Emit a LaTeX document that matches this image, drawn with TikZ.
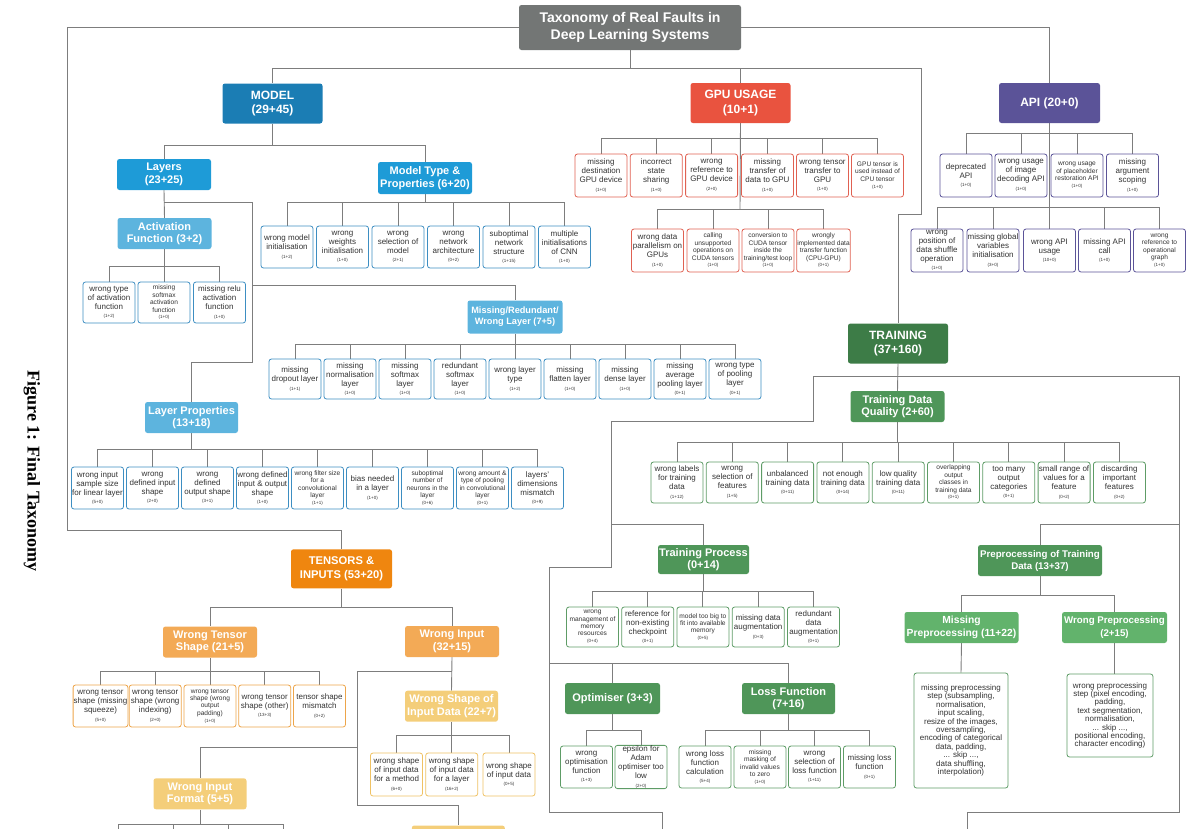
\documentclass[tikz,border=0pt]{standalone}
\usepackage{fontspec}
\setmainfont{Liberation Sans}
\newfontfamily\capfont{Liberation Serif}
\usetikzlibrary{backgrounds}

\definecolor{titlegray}{HTML}{737675}
\definecolor{modelblue}{HTML}{1B7DB4}
\definecolor{layerblue}{HTML}{1E9BD7}
\definecolor{lightblue}{HTML}{5DB4DE}
\definecolor{leafblue}{HTML}{3D8EC2}
\definecolor{gpured}{HTML}{E9533F}
\definecolor{leafred}{HTML}{E06152}
\definecolor{apipurple}{HTML}{5B5398}
\definecolor{traingreen}{HTML}{3D7C47}
\definecolor{midgreen}{HTML}{4F9659}
\definecolor{lightgreen}{HTML}{62B36C}
\definecolor{leafgreen}{HTML}{5E9C66}
\definecolor{tensororange}{HTML}{EF860F}
\definecolor{lightorange}{HTML}{F3AA56}
\definecolor{paleyellow}{HTML}{F4CE7A}
\definecolor{leaforange}{HTML}{EDA54A}
\definecolor{leafyellow}{HTML}{EFC264}
\definecolor{linegray}{HTML}{7D7D7D}
\definecolor{leaftext}{HTML}{333333}

\newcommand{\fcnt}[1]{\\[-0.5pt]{\fontsize{4.5}{5}\selectfont #1}}

\tikzset{
  cat/.style={rectangle, rounded corners=2.5pt, text=white, align=center, inner sep=1pt,
    font=\bfseries\fontsize{11}{12.5}\selectfont},
  topcat/.style={cat, minimum width=100pt, minimum height=40pt, font=\bfseries\fontsize{12}{14.3}\selectfont},
  midcat/.style={cat, minimum width=94pt, minimum height=31pt},
  leaf/.style={rectangle, draw=#1, fill=white, rounded corners=2.5pt, line width=0.8pt, align=center,
    inner sep=0.5pt, minimum width=52pt, minimum height=42pt, text=leaftext, font=\fontsize{8}{9}\selectfont},
  tinytext/.style={font=\fontsize{6.6}{7.4}\selectfont},
  link/.style={draw=linegray, line width=0.9pt}
}

\begin{document}
\begin{tikzpicture}[x=1pt,y=-1pt]
  \path[use as bounding box] (0,0) rectangle (1200,828);
  \clip (0,0) rectangle (1200,828);

  \node[cat, fill=titlegray, minimum width=222pt, minimum height=45pt, font=\bfseries\fontsize{14}{16.7}\selectfont] (title) at (630,27.5) {Taxonomy of Real Faults in\\Deep Learning Systems};
  \node[rotate=-90, font=\capfont\bfseries\fontsize{18}{20}\selectfont] (caption) at (32,471) {Figure 1: Final Taxonomy};

  % model
  \node[topcat, fill=modelblue] (model) at (272.5,103.5) {MODEL\\(29+45)};
  \node[midcat, fill=layerblue] (layers) at (164,174.5) {Layers\\(23+25)};
  \node[midcat, fill=layerblue, minimum height=32pt] (mtype) at (425,178) {Model Type \&\\Properties (6+20)};
  \node[midcat, fill=lightblue] (actfn) at (164.5,233.5) {Activation\\Function (3+2)};
  \node[midcat, fill=lightblue, minimum width=95pt, minimum height=33pt, font=\bfseries\fontsize{9.2}{11}\selectfont] (misred) at (515,317) {Missing/Redundant/\\Wrong Layer (7+5)};
  \node[midcat, fill=lightblue, minimum width=93pt] (lprops) at (191.5,417.5) {Layer Properties\\(13+18)};

  \node[leaf=leafblue] (mt1) at (287,247) {wrong model\\initialisation\fcnt{(1+2)}};
  \node[leaf=leafblue] (mt2) at (342.5,247) {wrong\\weights\\initialisation\fcnt{(1+0)}};
  \node[leaf=leafblue] (mt3) at (398,247) {wrong\\selection of\\model\fcnt{(2+1)}};
  \node[leaf=leafblue] (mt4) at (453.5,247) {wrong\\network\\architecture\fcnt{(0+2)}};
  \node[leaf=leafblue] (mt5) at (509,247) {suboptimal\\network\\structure\fcnt{(1+15)}};
  \node[leaf=leafblue] (mt6) at (564.5,247) {multiple\\initialisations\\of CNN\fcnt{(1+0)}};

  \node[leaf=leafblue, minimum height=41pt] (af1) at (109,302.5) {wrong type\\of activation\\function\fcnt{(1+2)}};
  \node[leaf=leafblue, minimum height=41pt, tinytext] (af2) at (164,302.5) {missing\\softmax\\activation\\function\fcnt{(1+0)}};
  \node[leaf=leafblue, minimum height=41pt] (af3) at (219.5,302.5) {missing relu\\activation\\function\fcnt{(1+0)}};

  \node[leaf=leafblue, minimum height=40pt] (mr1) at (295,379) {missing\\dropout layer\fcnt{(1+1)}};
  \node[leaf=leafblue, minimum height=40pt] (mr2) at (350,379) {missing\\normalisation\\layer\fcnt{(1+0)}};
  \node[leaf=leafblue, minimum height=40pt] (mr3) at (405,379) {missing\\softmax\\layer\fcnt{(1+0)}};
  \node[leaf=leafblue, minimum height=40pt] (mr4) at (460,379) {redundant\\softmax\\layer\fcnt{(1+0)}};
  \node[leaf=leafblue, minimum height=40pt] (mr5) at (515,379) {wrong layer\\type\fcnt{(1+2)}};
  \node[leaf=leafblue, minimum height=40pt] (mr6) at (570,379) {missing\\flatten layer\fcnt{(1+0)}};
  \node[leaf=leafblue, minimum height=40pt] (mr7) at (625,379) {missing\\dense layer\fcnt{(1+0)}};
  \node[leaf=leafblue, minimum height=40pt] (mr8) at (680,379) {missing\\average\\pooling layer\fcnt{(0+1)}};
  \node[leaf=leafblue, minimum height=40pt] (mr9) at (735,379) {wrong type\\of pooling\\layer\fcnt{(0+1)}};

  \node[leaf=leafblue] (lp1) at (97.5,488) {wrong input\\sample size\\for linear layer\fcnt{(5+0)}};
  \node[leaf=leafblue] (lp2) at (152.5,488) {wrong\\defined input\\shape\fcnt{(2+0)}};
  \node[leaf=leafblue] (lp3) at (207.5,488) {wrong\\defined\\output shape\fcnt{(3+1)}};
  \node[leaf=leafblue] (lp4) at (262.5,488) {wrong defined\\input \& output\\shape\fcnt{(1+0)}};
  \node[leaf=leafblue, tinytext] (lp5) at (317.5,488) {wrong filter size\\for a\\convolutional\\layer\fcnt{(1+1)}};
  \node[leaf=leafblue] (lp6) at (372.5,488) {bias needed\\in a layer\fcnt{(1+0)}};
  \node[leaf=leafblue, tinytext] (lp7) at (427.5,488) {suboptimal\\number of\\neurons in the\\layer\fcnt{(0+6)}};
  \node[leaf=leafblue, tinytext] (lp8) at (482.5,488) {wrong amount \&\\type of pooling\\in convolutional\\layer\fcnt{(0+1)}};
  \node[leaf=leafblue] (lp9) at (537.5,488) {layers'\\dimensions\\mismatch\fcnt{(0+9)}};

  % gpu usage
  \node[topcat, fill=gpured] (gpu) at (740.5,103) {GPU USAGE\\(10+1)};
  \node[leaf=leafred, minimum height=43pt] (gp1) at (601,175.5) {missing\\destination\\GPU device\fcnt{(1+0)}};
  \node[leaf=leafred, minimum height=43pt] (gp2) at (656.3,175.5) {incorrect\\state\\sharing\fcnt{(1+0)}};
  \node[leaf=leafred, minimum height=43pt] (gp3) at (711.6,175.5) {wrong\\reference to\\GPU device\fcnt{(2+0)}};
  \node[leaf=leafred, minimum height=43pt] (gp4) at (767.5,175.5) {missing\\transfer of\\data to GPU\fcnt{(1+0)}};
  \node[leaf=leafred, minimum height=43pt] (gp5) at (822.5,175.5) {wrong tensor\\transfer to\\GPU\fcnt{(1+0)}};
  \node[leaf=leafred, minimum height=43pt, tinytext] (gp6) at (877.5,175.5) {GPU tensor is\\used instead of\\CPU tensor\fcnt{(1+0)}};
  \node[leaf=leafred, minimum height=43pt] (gq1) at (657.5,250.5) {wrong data\\parallelism on\\GPUs\fcnt{(1+0)}};
  \node[leaf=leafred, minimum height=43pt, tinytext] (gq2) at (713,250.5) {calling\\unsupported\\operations on\\CUDA tensors\fcnt{(1+0)}};
  \node[leaf=leafred, minimum height=43pt, tinytext] (gq3) at (768,250.5) {conversion to\\CUDA tensor\\inside the\\training/test loop\fcnt{(1+0)}};
  \node[leaf=leafred, minimum height=43pt, tinytext] (gq4) at (823.5,250.5) {wrongly\\implemented data\\transfer function\\(CPU-GPU)\fcnt{(0+1)}};

  % api
  \node[topcat, fill=apipurple, minimum width=101pt] (api) at (1049.5,103) {API (20+0)};
  \node[leaf=apipurple, minimum height=43pt] (ap1) at (966,175.5) {deprecated\\API\fcnt{(1+0)}};
  \node[leaf=apipurple, minimum height=43pt] (ap2) at (1021,175.5) {wrong usage\\of image\\decoding API\fcnt{(1+0)}};
  \node[leaf=apipurple, minimum height=43pt, tinytext] (ap3) at (1077,175.5) {wrong usage\\of placeholder\\restoration API\fcnt{(1+0)}};
  \node[leaf=apipurple, minimum height=43pt] (ap4) at (1132.5,175.5) {missing\\argument\\scoping\fcnt{(1+0)}};
  \node[leaf=apipurple, minimum height=43pt] (aq1) at (937,250.5) {wrong\\position of\\data shuffle\\operation\fcnt{(1+0)}};
  \node[leaf=apipurple, minimum height=43pt] (aq2) at (993,250.5) {missing global\\variables\\initialisation\fcnt{(3+0)}};
  \node[leaf=apipurple, minimum height=43pt] (aq3) at (1049.5,250.5) {wrong API\\usage\fcnt{(10+0)}};
  \node[leaf=apipurple, minimum height=43pt] (aq4) at (1104.5,250.5) {missing API\\call\fcnt{(1+0)}};
  \node[leaf=apipurple, minimum height=43pt, tinytext] (aq5) at (1159.5,250.5) {wrong\\reference to\\operational\\graph\fcnt{(1+0)}};

  % training
  \node[topcat, fill=traingreen] (training) at (898,343.5) {TRAINING\\(37+160)};
  \node[midcat, fill=midgreen] (tdq) at (897.5,406.5) {Training Data\\Quality (2+60)};
  \node[midcat, fill=midgreen, minimum width=91pt, minimum height=29pt] (tproc) at (703.5,559.5) {Training Process\\(0+14)};
  \node[midcat, fill=midgreen, minimum width=124pt, font=\bfseries\fontsize{9.7}{12}\selectfont] (prep) at (1040,560.5) {Preprocessing of Training\\Data (13+37)};
  \node[midcat, fill=lightgreen, minimum width=114pt, font=\bfseries\fontsize{10.3}{12.5}\selectfont] (mprep) at (961.5,627.5) {Missing\\Preprocessing (11+22)};
  \node[midcat, fill=lightgreen, minimum width=105pt, font=\bfseries\fontsize{9.7}{12.5}\selectfont] (wprep) at (1114.5,627.5) {Wrong Preprocessing\\(2+15)};
  \node[midcat, fill=midgreen, minimum width=95pt] (optim) at (612.5,698.5) {Optimiser (3+3)};
  \node[midcat, fill=midgreen, minimum width=93pt] (loss) at (788.5,698.5) {Loss Function\\(7+16)};

  \node[leaf=leafgreen, minimum height=41pt] (dq1) at (677,482.5) {wrong labels\\for training\\data\fcnt{(1+12)}};
  \node[leaf=leafgreen, minimum height=41pt] (dq2) at (732.3,482.5) {wrong\\selection of\\features\fcnt{(1+5)}};
  \node[leaf=leafgreen, minimum height=41pt] (dq3) at (787.6,482.5) {unbalanced\\training data\fcnt{(0+11)}};
  \node[leaf=leafgreen, minimum height=41pt] (dq4) at (842.9,482.5) {not enough\\training data\fcnt{(0+14)}};
  \node[leaf=leafgreen, minimum height=41pt] (dq5) at (898.2,482.5) {low quality\\training data\fcnt{(0+11)}};
  \node[leaf=leafgreen, minimum height=41pt, tinytext] (dq6) at (953.5,482.5) {overlapping\\output\\classes in\\training data\fcnt{(0+1)}};
  \node[leaf=leafgreen, minimum height=41pt] (dq7) at (1008.8,482.5) {too many\\output\\categories\fcnt{(0+1)}};
  \node[leaf=leafgreen, minimum height=41pt] (dq8) at (1064.1,482.5) {small range of\\values for a\\feature\fcnt{(0+2)}};
  \node[leaf=leafgreen, minimum height=41pt] (dq9) at (1119.4,482.5) {discarding\\important\\features\fcnt{(0+2)}};

  \node[leaf=leafgreen, minimum height=40pt, tinytext] (tp1) at (592.5,627) {wrong\\management of\\memory\\resources\fcnt{(0+4)}};
  \node[leaf=leafgreen, minimum height=40pt] (tp2) at (647.7,627) {reference for\\non-existing\\checkpoint\fcnt{(0+1)}};
  \node[leaf=leafgreen, minimum height=40pt, tinytext] (tp3) at (702.9,627) {model too big to\\fit into available\\memory\fcnt{(0+5)}};
  \node[leaf=leafgreen, minimum height=40pt] (tp4) at (758.2,627) {missing data\\augmentation\fcnt{(0+3)}};
  \node[leaf=leafgreen, minimum height=40pt] (tp5) at (813.5,627) {redundant\\data\\augmentation\fcnt{(0+1)}};

  \node[leaf=leafgreen] (op1) at (586.5,767) {wrong\\optimisation\\function\fcnt{(1+3)}};
  \node[leaf=leafgreen] (op2) at (641,767) {epsilon for\\Adam\\optimiser too\\low\fcnt{(2+0)}};
  \node[leaf=leafgreen] (ls1) at (705,767) {wrong loss\\function\\calculation\fcnt{(5+4)}};
  \node[leaf=leafgreen, tinytext] (ls2) at (760,767) {missing\\masking of\\invalid values\\to zero\fcnt{(1+0)}};
  \node[leaf=leafgreen] (ls3) at (814.5,767) {wrong\\selection of\\loss function\fcnt{(1+11)}};
  \node[leaf=leafgreen] (ls4) at (869.5,767) {missing loss\\function\fcnt{(0+1)}};

  \node[leaf=leafgreen, minimum width=94pt, minimum height=115pt, font=\fontsize{8}{8.4}\selectfont] (mpleaf) at (961,730.5) {missing preprocessing\\step (subsampling,\\normalisation,\\input scaling,\\resize of the images,\\oversampling,\\encoding of categorical\\data, padding,\\... skip ...,\\data shuffling,\\interpolation)};
  \node[leaf=leafgreen, minimum width=86pt, minimum height=83pt, font=\fontsize{8}{8.4}\selectfont] (wpleaf) at (1110,715.5) {wrong preprocessing\\step (pixel encoding,\\padding,\\text segmentation,\\normalisation,\\... skip ...,\\positional encoding,\\character encoding)};

  % tensors and inputs
  \node[topcat, fill=tensororange, minimum width=101pt, minimum height=39pt, font=\bfseries\fontsize{11.2}{13.4}\selectfont] (tensors) at (341.5,568.8) {TENSORS \&\\INPUTS (53+20)};
  \node[midcat, fill=lightorange] (wtshape) at (210,642) {Wrong Tensor\\Shape (21+5)};
  \node[midcat, fill=lightorange] (winput) at (452,641.5) {Wrong Input\\(32+15)};
  \node[midcat, fill=paleyellow, minimum width=93pt] (wsid) at (451.5,706.2) {Wrong Shape of\\Input Data (22+7)};
  \node[midcat, fill=paleyellow, minimum width=93pt] (wif) at (200,793.8) {Wrong Input\\Format (5+5)};
  \node[midcat, fill=paleyellow, minimum width=93pt] (wbottom) at (458.3,841) {};

  \node[leaf=leaforange] (ts1) at (100.5,706) {wrong tensor\\shape (missing\\squeeze)\fcnt{(5+0)}};
  \node[leaf=leaforange] (ts2) at (155.2,706) {wrong tensor\\shape (wrong\\indexing)\fcnt{(2+0)}};
  \node[leaf=leaforange, tinytext] (ts3) at (210,706) {wrong tensor\\shape (wrong\\output\\padding)\fcnt{(1+0)}};
  \node[leaf=leaforange] (ts4) at (264.7,706) {wrong tensor\\shape (other)\fcnt{(13+3)}};
  \node[leaf=leaforange] (ts5) at (319.5,706) {tensor shape\\mismatch\fcnt{(0+2)}};

  \node[leaf=leafyellow, minimum height=43pt] (ws1) at (396.5,774.5) {wrong shape\\of input data\\for a method\fcnt{(6+0)}};
  \node[leaf=leafyellow, minimum height=43pt] (ws2) at (451.7,774.5) {wrong shape\\of input data\\for a layer\fcnt{(16+2)}};
  \node[leaf=leafyellow, minimum height=43pt] (ws3) at (509,774.5) {wrong shape\\of input data\fcnt{(0+5)}};

  \coordinate (lt) at (67,27.5);
  \coordinate (lb) at (67,530);
  \coordinate (topbus) at (630,68);
  \coordinate (trkA) at (921,68);
  \coordinate (trkB) at (921,214);
  \coordinate (modelbus) at (272.5,145);
  \coordinate (mtbus) at (425,202);
  \coordinate (lyA) at (164,202);
  \coordinate (lyB) at (252,202);
  \coordinate (lyC) at (252,362);
  \coordinate (lyD) at (252,285);
  \coordinate (actbus) at (164.5,266);
  \coordinate (mrbus) at (515,344);
  \coordinate (lpbus) at (191.5,449);
  \coordinate (gpubus) at (740,138);
  \coordinate (gpubusB) at (740,209);
  \coordinate (apibus) at (1049.5,133);
  \coordinate (apibusB) at (1049.5,207);
  \coordinate (trL) at (813,376);
  \coordinate (trR) at (1179,376);
  \coordinate (trL2) at (813,421);
  \coordinate (trL3) at (611,421);
  \coordinate (trL4) at (611,567);
  \coordinate (trL5) at (549,567);
  \coordinate (trL6) at (549,812);
  \coordinate (trL7) at (662,812);
  \coordinate (trL8) at (662,840);
  \coordinate (trR2) at (1179,812);
  \coordinate (trR3) at (967,812);
  \coordinate (trR4) at (967,840);
  \coordinate (tpfork) at (611,524);
  \coordinate (prfork) at (1179,524);
  \coordinate (optbus) at (549,663);
  \coordinate (dqbus) at (897.5,442);
  \coordinate (tpbus) at (703.5,591);
  \coordinate (opbus) at (612.5,730);
  \coordinate (lsbus) at (788.5,730);
  \coordinate (prbus) at (1040,595);
  \coordinate (tnbus) at (341.5,607);
  \coordinate (tsbus) at (210,671);
  \coordinate (wiA) at (452,671);
  \coordinate (wiB) at (357.7,671);
  \coordinate (wiC) at (357.7,805);
  \coordinate (wiD) at (458.3,805);
  \coordinate (wifork) at (357.7,747);
  \coordinate (wsbus) at (451.5,735);
  \coordinate (wfbus) at (200,824);
  \coordinate (wf1) at (118.3,840);
  \coordinate (wf2) at (173.3,840);
  \coordinate (wf3) at (228.3,840);
  \coordinate (wf4) at (283.3,840);

  \begin{pgfonlayer}{background}
  \draw[link] (title.west) -- (lt) -- (lb) -| (tensors.north);
  \draw[link] (title.east) -| (api.north);
  \draw[link] (title.south) -- (topbus);
  \draw[link] (topbus) -| (model.north);
  \draw[link] (topbus) -| (gpu.north);
  \draw[link] (topbus) -- (trkA) -- (trkB) -| (training.north);

  \draw[link] (model.south) -- (modelbus) -| (layers.north);
  \draw[link] (modelbus) -| (mtype.north);
  \draw[link] (mtype.south) -- (mtbus);
  \foreach \n in {mt1,mt2,mt3,mt4,mt5,mt6} \draw[link] (mtbus) -| (\n.north);
  \draw[link] (layers.south) -- (actfn.north);
  \draw[link] (lyA) -- (lyB) -- (lyC) -| (lprops.north);
  \draw[link] (lyD) -| (misred.north);
  \draw[link] (actfn.south) -- (actbus);
  \foreach \n in {af1,af2,af3} \draw[link] (actbus) -| (\n.north);
  \draw[link] (misred.south) -- (mrbus);
  \foreach \n in {mr1,mr2,mr3,mr4,mr5,mr6,mr7,mr8,mr9} \draw[link] (mrbus) -| (\n.north);
  \draw[link] (lprops.south) -- (lpbus);
  \foreach \n in {lp1,lp2,lp3,lp4,lp5,lp6,lp7,lp8,lp9} \draw[link] (lpbus) -| (\n.north);

  \draw[link] (gpu.south) -- (gpubusB);
  \foreach \n in {gp1,gp2,gp3,gp4,gp5,gp6} \draw[link] (gpubus) -| (\n.north);
  \foreach \n in {gq1,gq2,gq3,gq4} \draw[link] (gpubusB) -| (\n.north);

  \draw[link] (api.south) -- (apibusB);
  \foreach \n in {ap1,ap2,ap3,ap4} \draw[link] (apibus) -| (\n.north);
  \foreach \n in {aq1,aq2,aq3,aq4,aq5} \draw[link] (apibusB) -| (\n.north);

  \draw[link] (training.south) -- (tdq.north);
  \draw[link] (trL) -- (trR);
  \draw[link] (trL) -- (trL2) -- (trL3) -- (trL4) -- (trL5) -- (trL6) -- (trL7) -- (trL8);
  \draw[link] (trR) -- (trR2) -- (trR3) -- (trR4);
  \draw[link] (tpfork) -| (tproc.north);
  \draw[link] (prfork) -| (prep.north);
  \draw[link] (optbus) -| (optim.north);
  \draw[link] (optbus) -| (loss.north);
  \draw[link] (tdq.south) -- (dqbus);
  \foreach \n in {dq1,dq2,dq3,dq4,dq5,dq6,dq7,dq8,dq9} \draw[link] (dqbus) -| (\n.north);
  \draw[link] (tproc.south) -- (tpbus);
  \foreach \n in {tp1,tp2,tp3,tp4,tp5} \draw[link] (tpbus) -| (\n.north);
  \draw[link] (optim.south) -- (opbus);
  \foreach \n in {op1,op2} \draw[link] (opbus) -| (\n.north);
  \draw[link] (loss.south) -- (lsbus);
  \foreach \n in {ls1,ls2,ls3,ls4} \draw[link] (lsbus) -| (\n.north);
  \draw[link] (prep.south) -- (prbus);
  \draw[link] (prbus) -| (mprep.north);
  \draw[link] (prbus) -| (wprep.north);
  \draw[link] (mprep.south) -- (mpleaf.north);
  \draw[link] (wprep.south) -- (wprep.south |- wpleaf.north);

  \draw[link] (tensors.south) -- (tnbus);
  \draw[link] (tnbus) -| (wtshape.north);
  \draw[link] (tnbus) -| (winput.north);
  \draw[link] (wtshape.south) -- (tsbus);
  \foreach \n in {ts1,ts2,ts3,ts4,ts5} \draw[link] (tsbus) -| (\n.north);
  \draw[link] (winput.south) -- (wsid.north);
  \draw[link] (wiA) -- (wiB) -- (wiC) -- (wiD) -- (wbottom.north);
  \draw[link] (wifork) -| (wif.north);
  \draw[link] (wsid.south) -- (wsbus);
  \foreach \n in {ws1,ws2,ws3} \draw[link] (wsbus) -| (\n.north);
  \draw[link] (wif.south) -- (wfbus);
  \foreach \n in {wf1,wf2,wf3,wf4} \draw[link] (wfbus) -| (\n);
  \end{pgfonlayer}
\end{tikzpicture}
\end{document}
